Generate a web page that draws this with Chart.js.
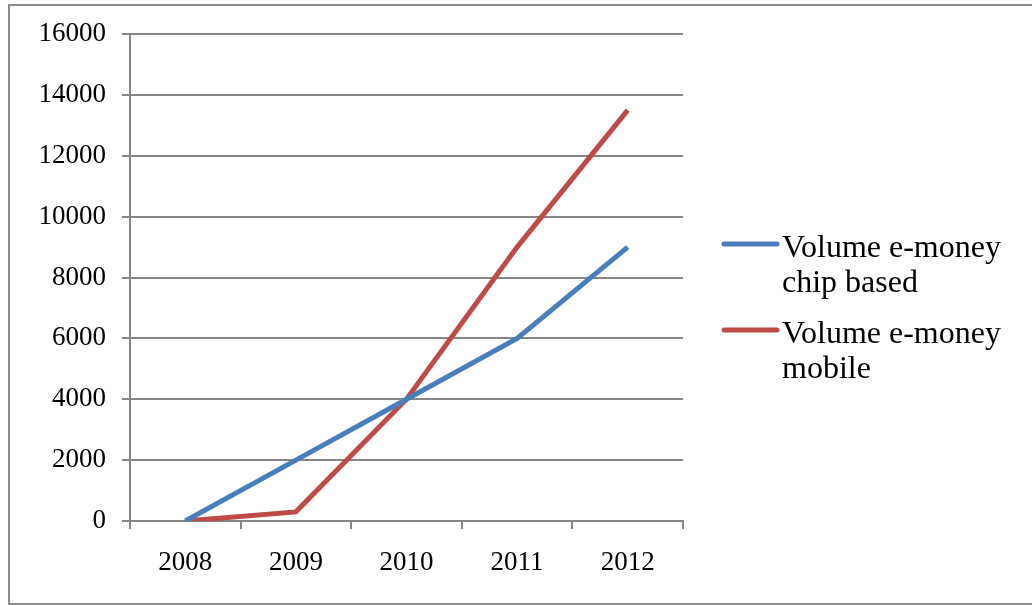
<!DOCTYPE html>
<html>
<head>
<meta charset="utf-8">
<script src="https://cdn.jsdelivr.net/npm/chart.js@4/dist/chart.umd.min.js"></script>
<style>
  html, body { margin: 0; padding: 0; background: #fff; }
  #wrap { width: 1032px; height: 605px; position: relative; }
</style>
</head>
<body>
<div id="wrap"><canvas id="chart1" width="1032" height="605"></canvas></div>
<script>
// data
const years = ['2008', '2009', '2010', '2011', '2012'];
const chipBased = [0, 2000, 4000, 6000, 9000];
const mobile = [0, 300, 4000, 9000, 13500];
const seriesNames = [['Volume e-money', 'chip based'], ['Volume e-money', 'mobile']];
const yTicks = [0, 2000, 4000, 6000, 8000, 10000, 12000, 14000, 16000];

const gridGray = '#868686';
const serif = 'Liberation Serif, Times New Roman, serif';

// frame + legend drawn by hand, like the excel export
const framePlugin = {
    id: 'frame',
    afterDraw(chart) {
        const ctx = chart.ctx;
        ctx.save();
        ctx.strokeStyle = '#8c8c8c';
        ctx.lineWidth = 2;
        ctx.beginPath();
        ctx.moveTo(1032, 5);
        ctx.lineTo(9, 5);
        ctx.lineTo(9, 604);
        ctx.lineTo(1032, 604);
        ctx.stroke();

        // legend
        const rows = [244, 330];
        chart.data.datasets.forEach((ds, i) => {
            const y = rows[i];
            ctx.strokeStyle = ds.borderColor;
            ctx.lineWidth = 5;
            ctx.lineCap = 'round';
            ctx.beginPath();
            ctx.moveTo(724, y);
            ctx.lineTo(777, y);
            ctx.stroke();
            ctx.fillStyle = '#000';
            ctx.font = '32px ' + serif;
            ctx.textBaseline = 'alphabetic';
            ctx.textAlign = 'left';
            seriesNames[i].forEach((line, j) => {
                ctx.fillText(line, 782, y + 13 + j * 35);
            });
        });
        ctx.restore();
    }
};

const config1 = {
    type: 'line',
    data: {
        labels: years,
        datasets: [{
            label: seriesNames[0].join(' '),
            data: chipBased,
            borderColor: '#4a7ebb',
            backgroundColor: '#4a7ebb',
            borderWidth: 5,
            pointRadius: 0,
            tension: 0
        }, {
            label: seriesNames[1].join(' '),
            data: mobile,
            borderColor: '#be4b48',
            backgroundColor: '#be4b48',
            borderWidth: 5,
            pointRadius: 0,
            tension: 0
        }]
    },
    options: {
        responsive: false,
        animation: false,
        layout: { padding: { left: 0, top: 34, right: 349, bottom: 0 } },
        plugins: {
            legend: { display: false },
            tooltip: { enabled: false }
        },
        scales: {
            x: {
                offset: true,
                grid: {
                    offset: true,
                    drawOnChartArea: false,
                    drawTicks: true,
                    tickLength: 8,
                    color: gridGray,
                    lineWidth: 2
                },
                border: { display: true, color: gridGray, width: 2 },
                ticks: {
                    color: '#000',
                    font: { family: serif, size: 27 },
                    padding: 18,
                    maxRotation: 0
                },
                afterFit(scale) { scale.height = 84; }
            },
            y: {
                min: 0,
                max: 16000,
                afterBuildTicks(scale) { scale.ticks = yTicks.map(v => ({ value: v })); },
                grid: {
                    color: gridGray,
                    lineWidth: 2,
                    tickLength: 8
                },
                border: { display: true, color: gridGray, width: 2 },
                ticks: {
                    color: '#000',
                    font: { family: serif, size: 27 },
                    padding: 16,
                    callback: v => String(v)
                },
                afterFit(scale) { scale.width = 130; }
            }
        }
    },
    plugins: [framePlugin]
};

const chart1 = new Chart(document.getElementById('chart1'), config1);
</script>
</body>
</html>
